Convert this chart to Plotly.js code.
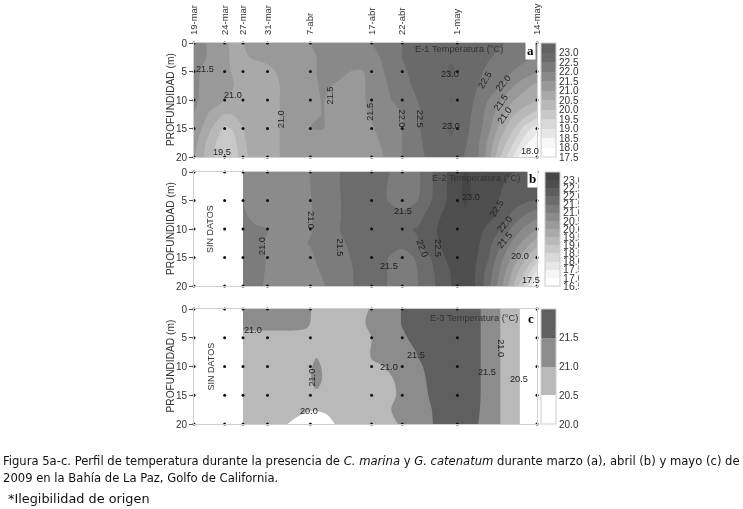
<!DOCTYPE html>
<html><head><meta charset="utf-8">
<script src="https://cdn.plot.ly/plotly-3.0.1.min.js"></script>
<style>html,body{margin:0;padding:0;background:#fff}#wrap{position:relative;width:743px;height:509px;overflow:hidden}#chart{width:743px;height:509px;filter:blur(0.4px)}#clip{position:absolute;left:579px;top:165px;width:30px;height:128px;background:#fff}</style>
</head><body><div id="wrap"><div id="chart"></div><div id="clip"></div></div>
<script>
const stationDays=[0,5,8,12,19,29,34,43,56];
const stationLabels=['19-mar','24-mar','27-mar','31-mar','7-abr','17-abr','22-abr','1-may','14-may'];
const depthTicks=[0,5,10,15,20];
const gridDepths=[0,2.5,5,7.5,10,12.5,15,17.5,20];

const daysA=[0,2.5,5,6.5,8,10,12,14,16,19,21,24,27,29,31,34,36.5,40,42,46,48,50,52,54,56];
const tempA=[
[21.7,21.45,21.1,20.9,21.0,21.1,21.15,21.2,21.3,21.5,21.6,21.7,21.85,22.0,22.2,22.5,22.6,22.7,22.8,22.75,22.65,22.55,22.4,22.3,22.2],
[21.7,21.45,21.1,20.9,20.95,21.05,21.1,21.2,21.3,21.45,21.55,21.65,21.8,21.9,22.05,22.5,22.6,22.75,22.95,22.75,22.55,22.4,22.25,22.1,21.95],
[21.6,21.35,21.1,20.95,20.85,20.8,20.9,21.05,21.25,21.45,21.55,21.55,21.45,21.6,22.0,22.45,22.6,22.85,23.07,22.65,22.4,22.2,22.0,21.8,21.55],
[21.6,21.3,21.1,21.0,20.85,20.75,20.85,21.0,21.2,21.4,21.55,21.45,21.4,21.6,21.9,22.35,22.6,22.8,22.9,22.55,22.25,22.0,21.55,21.15,20.85],
[21.6,21.25,21.0,20.85,20.8,20.8,20.9,21.0,21.2,21.4,21.52,21.35,21.4,21.6,21.85,22.2,22.5,22.8,23.02,22.45,22.0,21.55,21.05,20.75,20.55],
[21.5,20.95,20.5,20.55,20.7,20.8,20.9,21.0,21.15,21.35,21.52,21.3,21.35,21.55,21.8,22.0,22.45,22.8,22.95,22.4,21.8,21.2,20.6,20.2,19.75],
[21.4,20.6,19.9,20.05,20.5,20.8,20.9,21.0,21.15,21.52,21.52,21.25,21.3,21.45,21.7,22.0,22.45,22.85,23.07,22.3,21.7,20.8,20.1,19.3,18.7],
[21.2,20.3,19.6,19.85,20.4,20.8,20.9,21.0,21.1,21.2,21.25,21.3,21.35,21.4,21.55,22.0,22.4,22.85,22.95,22.25,21.4,20.4,19.6,18.7,18.05],
[21.05,20.2,19.5,19.7,20.3,20.8,20.9,21.0,21.1,21.2,21.25,21.3,21.35,21.4,21.5,22.0,22.35,22.8,22.8,22.2,21.3,20.0,19.0,18.0,17.6]];

const daysB=[8,10,12,14,16,19,21,24,27,29,31,34,36.5,40,42.3,44.25,46.2,48,50,52,54,56];
const tempB=[
[20.85,20.8,20.8,20.8,20.9,21.0,21.2,21.52,21.7,21.8,21.6,21.3,21.4,22.25,22.7,23.02,22.9,22.8,22.65,22.52,22.4,22.3],
[20.85,20.8,20.8,20.8,20.9,21.0,21.2,21.52,21.7,21.8,21.55,21.25,21.4,22.25,22.7,23.1,22.9,22.75,22.55,22.3,22.25,22.15],
[21.0,20.85,20.8,20.8,20.9,20.98,21.2,21.5,21.7,21.8,21.55,21.3,21.5,22.25,22.7,23.05,22.85,22.65,22.47,22.25,22.1,21.97],
[21.05,20.9,20.8,20.8,20.85,20.97,21.2,21.5,21.7,21.8,21.75,21.6,21.8,22.45,22.75,22.95,22.85,22.75,22.35,21.9,21.5,21.2],
[21.15,21.05,21.0,20.85,20.9,20.97,21.2,21.52,21.7,21.8,21.85,21.95,22.02,22.55,22.75,22.9,22.75,22.35,22.0,21.4,20.9,20.5],
[21.2,21.1,20.97,20.85,20.9,21.02,21.25,21.45,21.65,21.7,21.7,21.6,21.98,22.5,22.75,22.85,22.6,22.2,21.6,20.9,20.3,19.7],
[21.2,21.1,20.98,20.8,20.85,20.95,21.1,21.4,21.6,21.65,21.55,21.35,21.55,22.3,22.75,22.85,22.5,22.05,21.2,20.4,19.65,18.85],
[21.2,21.1,20.97,20.7,20.75,20.85,21.05,21.3,21.6,21.65,21.55,21.3,21.5,22.15,22.6,22.8,22.45,21.8,20.95,19.95,19.0,17.9],
[21.15,21.05,20.97,20.7,20.75,20.85,20.95,21.3,21.6,21.65,21.55,21.25,21.5,22.1,22.55,22.8,22.45,21.7,20.7,19.6,18.4,16.9]];

const daysC=[8,10,12,14,16,18.4,20,21.7,24,27,29,31,34,36.5,40,43,46,48,50,52,54,56];
const tempC=[
[21.1,21.1,21.1,21.1,21.1,21.08,20.9,20.88,20.85,20.9,21.03,21.2,21.52,21.6,21.7,21.7,21.6,21.35,21.0,20.65,20.4,20.3],
[21.1,21.1,21.1,21.1,21.1,21.05,20.9,20.88,20.85,20.9,21.1,21.2,21.52,21.6,21.7,21.7,21.6,21.35,21.0,20.65,20.4,20.3],
[20.9,20.9,20.9,20.9,20.9,20.9,20.85,20.85,20.8,20.85,21.0,21.15,21.45,21.6,21.7,21.7,21.6,21.35,21.0,20.65,20.4,20.3],
[20.8,20.8,20.8,20.8,20.8,20.85,20.9,20.85,20.75,20.85,21.02,21.15,21.3,21.52,21.7,21.7,21.6,21.35,21.0,20.65,20.4,20.3],
[20.8,20.8,20.8,20.8,20.8,20.8,21.15,20.8,20.75,20.85,20.98,21.0,21.08,21.45,21.65,21.7,21.6,21.35,21.0,20.65,20.4,20.3],
[20.85,20.85,20.85,20.85,20.85,20.8,21.2,20.8,20.8,20.8,20.85,20.9,21.08,21.4,21.65,21.7,21.6,21.35,21.0,20.65,20.4,20.3],
[20.8,20.8,20.8,20.8,20.8,20.8,20.85,20.8,20.8,20.8,20.85,20.9,21.05,21.35,21.65,21.7,21.6,21.35,21.0,20.65,20.4,20.3],
[20.75,20.75,20.75,20.7,20.65,20.55,20.53,20.58,20.7,20.8,20.85,20.9,21.15,21.3,21.6,21.7,21.6,21.3,21.0,20.65,20.4,20.3],
[20.75,20.75,20.7,20.6,20.45,20.25,20.2,20.35,20.62,20.8,20.85,20.9,21.03,21.3,21.58,21.7,21.55,21.3,21.0,20.65,20.4,20.3]];

const labelsA=[['21.5',1.8,4.5,0],['21.0',6.4,9.1,0],['19.5',4.6,19.2,0],['21.0',14.1,13.3,-90],['21.5',22.2,9.2,-90],['21.5',28.7,12.1,-90],['22.0',34,13.3,90],['22.5',36.9,13.3,90],['23.0',41.8,5.5,0],['23.0',41.9,14.6,0],['22.5',47.5,6.5,-60],['22.0',50.5,7,-50],['21.5',50.2,10.4,-55],['21.0',50.8,12.7,-55],['18.0',54.9,19,0]];
const labelsB=[['21.0',11,12.9,-90],['21.0',19,8.5,90],['21.5',23.8,13.2,90],['21.5',34.1,6.8,0],['21.5',31.9,16.5,0],['22.0',37.3,13.5,70],['22.5',39.8,13.3,90],['23.0',45.3,4.3,0],['22.5',49.5,6.4,-60],['22.0',50.8,9.2,-50],['21.5',50.8,12,-50],['20.0',53.3,14.7,0],['17.5',55,19,0]];
const labelsC=[['21.0',9.6,3.6,0],['21.0',19.2,12,-90],['20.0',18.7,17.8,0],['21.0',31.8,10,0],['21.5',36.2,8,0],['21.0',50.1,6.8,90],['21.5',47.8,11,0],['20.5',53.1,12.2,0]];
const barTicksA=[17.5,18,18.5,19,19.5,20,20.5,21,21.5,22,22.5,23];
const barTicksB=[16.5,17,17.5,18,18.5,19,19.5,20,20.5,21,21.5,22,22.5,23];
const barTicksC=[20,20.5,21,21.5];

const W=743,H=509,L=194,R=537;
const panels=[
 {t:43,b:157,ax:'',days:daysA,z:tempA,labels:labelsA,bar:barTicksA,title:'E-1 Temperatura (°C)',letter:'a',start:17.5,end:23,zmin:17.5,zmax:23.5,cs:[[0,'#ffffff'],[.09,'#ffffff'],[1,'#626262']],cbx:541,cbf:10,tfx:505,lx:530,ty:6,ly:7},
 {t:172,b:286,ax:'2',days:daysB,z:tempB,labels:labelsB,bar:barTicksB,title:'E-2 Temperatura (°C)',letter:'b',start:16.5,end:23,zmin:16.5,zmax:23.5,cs:[[0,'#ffffff'],[.072,'#ffffff'],[1,'#464646']],cbx:545,cbf:10.5,tfx:522,lx:532,ty:6,ly:7,nodata:true},
 {t:309,b:424,ax:'3',days:daysC,z:tempC,labels:labelsC,bar:barTicksC,title:'E-3 Temperatura (°C)',letter:'c',start:20,end:21.5,zmin:20,zmax:22,cs:[[0,'#fff'],[.375,'#fff'],[.375,'#b9b9b9'],[.625,'#b9b9b9'],[.625,'#8c8c8c'],[.875,'#8c8c8c'],[.875,'#5f5f5f'],[1,'#5f5f5f']],cbx:541,cbf:10,tfx:520,lx:531,ty:9,ly:9,nodata:true}];

const traces=[],ann=[],layout={width:W,height:H,margin:{l:0,r:0,t:0,b:0},paper_bgcolor:'#fff',plot_bgcolor:'#fff',showlegend:false,font:{family:'Liberation Sans, Arial, sans-serif',color:'#2a2a2a'}};
const dotX=[],dotY=[];
stationDays.forEach(d=>depthTicks.forEach(p=>{dotX.push(d);dotY.push(p);}));
panels.forEach((p,i)=>{
 const xa='x'+p.ax, ya='y'+p.ax;
 traces.push({type:'contour',x:p.days,y:gridDepths,z:p.z,xaxis:xa,yaxis:ya,zmin:p.zmin,zmax:p.zmax,colorscale:p.cs,
  contours:{coloring:'fill',start:p.start,end:p.end,size:0.5,showlines:false},line:{width:0,smoothing:0.9},hoverinfo:'skip',
  colorbar:{x:p.cbx/W,xanchor:'left',xpad:0,ypad:0,y:1-p.b/H,yanchor:'bottom',lenmode:'pixels',len:p.b-p.t,thickness:15,thicknessmode:'pixels',
   tickmode:'array',tickvals:p.bar,ticktext:p.bar.map(v=>v.toFixed(1)),ticks:'',tickfont:{size:p.cbf,color:'#333'},outlinecolor:'#ccc',outlinewidth:1,borderwidth:0}});
 traces.push({type:'scatter',mode:'markers',x:dotX,y:dotY,xaxis:xa,yaxis:ya,marker:{size:3,color:'#111'},cliponaxis:false,hoverinfo:'skip'});
 layout['xaxis'+p.ax]={domain:[L/W,R/W],range:[0,56],anchor:ya,side:'top',showgrid:false,zeroline:false,showline:true,mirror:true,linecolor:'#cfcfcf',linewidth:1,
   tickvals:i===0?stationDays:[],ticktext:i===0?stationLabels:[],tickangle:-90,ticks:i===0?'outside':'',ticklen:5,tickcolor:'rgba(0,0,0,0)',tickfont:{size:9.5,color:'#333'},showticklabels:i===0};
 layout['yaxis'+p.ax]={domain:[1-p.b/H,1-p.t/H],range:[20,0],anchor:xa,showgrid:false,zeroline:false,showline:true,mirror:true,linecolor:'#cfcfcf',linewidth:1,
   tickvals:depthTicks,ticks:'outside',ticklen:4,tickcolor:'#555',tickfont:{size:10,color:'#333'}};
 p.labels.forEach(l=>ann.push({xref:xa,yref:ya,x:l[1],y:l[2],xanchor:'center',yanchor:'middle',text:l[0],textangle:l[3],showarrow:false,font:{size:9.2,color:'#222'}}));
 ann.push({xref:'paper',yref:'paper',x:p.tfx/W,y:1-(p.t+p.ty)/H,xanchor:'right',yanchor:'middle',text:p.title,showarrow:false,font:{size:9.3,color:'#333'}});
 ann.push({xref:'paper',yref:'paper',x:p.lx/W,y:1-(p.t+p.ly)/H,xanchor:'center',yanchor:'middle',text:'<b>'+p.letter+'</b>',showarrow:false,bgcolor:'#fff',borderpad:1,font:{family:'Liberation Serif, serif',size:13,color:'#000'},});
 ann.push({xref:'paper',yref:'paper',x:170/W,y:1-(p.t+p.b)/2/H,xanchor:'center',yanchor:'middle',text:'PROFUNDIDAD (m)',textangle:-90,showarrow:false,font:{size:10.2,color:'#333'}});
 if(p.nodata) ann.push({xref:'paper',yref:'paper',x:210/W,y:1-(p.t+p.b)/2/H,xanchor:'center',yanchor:'middle',text:'SIN DATOS',textangle:-90,showarrow:false,font:{size:9,color:'#333'}});
});
const captions=[
 ['Figura 5a-c. Perfil de temperatura durante la presencia de <i>C. marina</i> y <i>G. catenatum</i> durante marzo (a), abril (b) y mayo (c) de',460,12.9,'DejaVu Sans Condensed, DejaVu Sans, sans-serif',1],
 ['2009 en la Bahía de La Paz, Golfo de California.',477,12.9,'DejaVu Sans Condensed, DejaVu Sans, sans-serif',1],
 ['*Ilegibilidad de origen',498,12.85,'DejaVu Sans, sans-serif',6]];
captions.forEach(c=>ann.push({xref:'paper',yref:'paper',x:c[4]/W,y:1-c[1]/H,xanchor:'left',yanchor:'middle',text:c[0],showarrow:false,font:{family:c[3],size:c[2],color:'#111'}}));
layout.annotations=ann;
Plotly.newPlot('chart',traces,layout,{displayModeBar:false,staticPlot:true});
</script></body></html>
